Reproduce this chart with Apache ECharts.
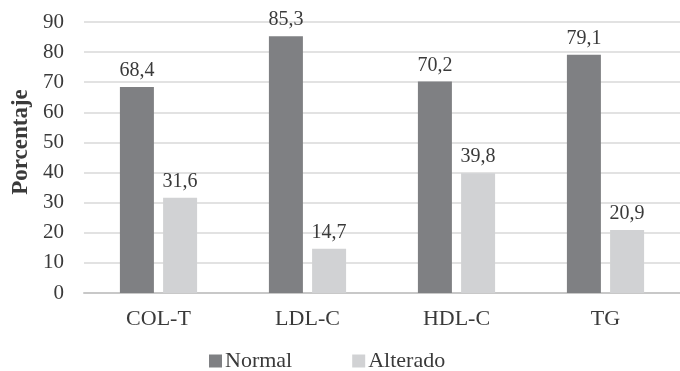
<!DOCTYPE html>
<html>
<head>
<meta charset="utf-8">
<script src="https://cdn.jsdelivr.net/npm/echarts@6/dist/echarts.min.js"></script>
<style>
  html, body { margin: 0; padding: 0; background: #fff; }
  #chart { width: 680px; height: 371px; }
</style>
</head>
<body>
<div id="chart"></div>
<script>
// Lipid profile: share of normal vs altered results per marker
const categories = ['COL-T', 'LDL-C', 'HDL-C', 'TG'];
const normalValues = [68.4, 85.3, 70.2, 79.1];
const alteradoValues = [31.6, 14.7, 39.8, 20.9];
const yTicks = { min: 0, max: 90, interval: 10 };

const FONT = '"Liberation Serif", "DejaVu Serif", serif';
const TEXT = '#3a3a3a';
const fmt = p => String(p.value).replace('.', ',');

const chart = echarts.init(document.getElementById('chart'));
chart.setOption({
  animation: false,
  textStyle: { fontFamily: FONT },
  grid: { left: 84, top: 22, width: 602, bottom: 78 },
  legend: {
    data: ['Normal', 'Alterado'],
    top: 345,
    left: 204,
    itemWidth: 13,
    itemHeight: 13,
    itemGap: 60,
    icon: 'rect',
    textStyle: { fontFamily: FONT, fontSize: 22, color: TEXT, padding: [0, 0, 0, -2] }
  },
  xAxis: {
    type: 'category',
    data: categories,
    axisTick: { show: false },
    axisLine: { lineStyle: { color: '#c8c8c8', width: 2 } },
    axisLabel: { fontFamily: FONT, fontSize: 22, color: TEXT, margin: 15 }
  },
  yAxis: {
    type: 'value',
    min: yTicks.min,
    max: yTicks.max,
    interval: yTicks.interval,
    axisLine: { show: false },
    axisTick: { show: false },
    axisLabel: { fontFamily: FONT, fontSize: 21, color: TEXT, margin: 20 },
    splitLine: { lineStyle: { color: '#d9d9d9', width: 1.5 } }
  },
  graphic: [{
    type: 'text',
    x: 21,
    y: 142,
    rotation: Math.PI / 2,
    style: {
      text: 'Porcentaje',
      font: 'bold 23px ' + FONT,
      fill: TEXT,
      align: 'center',
      verticalAlign: 'middle'
    }
  }],
  series: [
    {
      name: 'Normal',
      type: 'bar',
      data: normalValues,
      barWidth: 34,
      barGap: '27%',
      itemStyle: { color: '#7f8083' },
      label: { show: true, position: 'top', distance: 6, formatter: fmt, fontFamily: FONT, fontSize: 20, color: TEXT }
    },
    {
      name: 'Alterado',
      type: 'bar',
      data: alteradoValues,
      barWidth: 34,
      itemStyle: { color: '#d1d2d4' },
      label: { show: true, position: 'top', distance: 6, formatter: fmt, fontFamily: FONT, fontSize: 20, color: TEXT }
    }
  ]
});
</script>
</body>
</html>
